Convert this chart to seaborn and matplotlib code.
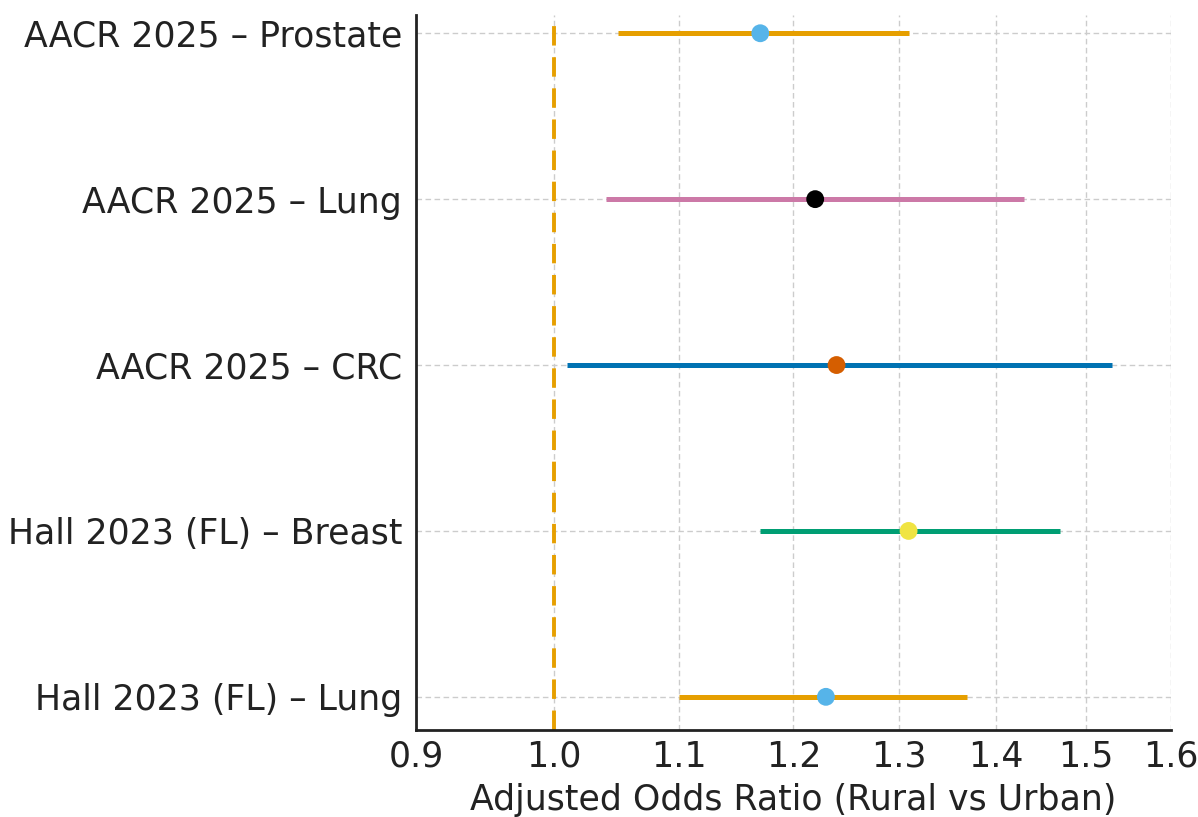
import matplotlib
matplotlib.use("Agg")
import matplotlib.pyplot as plt
import seaborn as sns
import numpy as np
import pandas as pd
from matplotlib.ticker import FixedLocator, FixedFormatter, NullLocator

studies = ["AACR 2025 – Prostate", "AACR 2025 – Lung", "AACR 2025 – CRC",
           "Hall 2023 (FL) – Breast", "Hall 2023 (FL) – Lung"]
odds_ratio = [1.17, 1.22, 1.24, 1.31, 1.23]
ci_low = [1.05, 1.04, 1.01, 1.17, 1.10]
ci_high = [1.31, 1.43, 1.53, 1.47, 1.37]
line_colors = ["#E69F00", "#CC79A7", "#0072B2", "#009E73", "#E69F00"]
point_colors = ["#56B4E9", "#000000", "#D55E00", "#F0E442", "#56B4E9"]
x_ticks = [0.9, 1.0, 1.1, 1.2, 1.3, 1.4, 1.5, 1.6]
x_tick_labels = ["0.9", "1.0", "1.1", "1.2", "1.3", "1.4", "1.5", "1.6"]

sns.set_style("white")
plt.rcParams['font.family'] = ['DejaVu Sans']

df = pd.DataFrame({"study": studies, "or": odds_ratio, "lo": ci_low, "hi": ci_high})
n = len(studies)
df["y"] = [n - 1 - i for i in range(n)]

fig = plt.figure(figsize=(11.98, 8.17), dpi=100)
ax = fig.add_axes([416/1198, 1 - 730/817, (1171 - 416)/1198, (730 - 15)/817])

ax.set_xscale("log")
ax.grid(True, which="major", linestyle=(0, (4, 2.5)), color="#cccccc", linewidth=1.0, zorder=0)
ax.set_axisbelow(True)

ax.axvline(1.0, color="#E69F00", linestyle=(0, (5, 3)), linewidth=2.8, zorder=1)

for i, row in df.iterrows():
    ax.hlines(row["y"], row["lo"], row["hi"], color=line_colors[i], linewidth=3.6, zorder=2)

sns.scatterplot(data=df, x="or", y="y", hue="study", palette=point_colors,
                s=165, edgecolor="none", legend=False, zorder=3, ax=ax)

ax.set_xlim(0.9, 1.6)
ax.set_ylim(-0.2, n - 1 + 0.11)
ax.xaxis.set_major_locator(FixedLocator(x_ticks))
ax.xaxis.set_major_formatter(FixedFormatter(x_tick_labels))
ax.xaxis.set_minor_locator(NullLocator())
ax.set_yticks(df["y"])
ax.set_yticklabels(df["study"])

ax.tick_params(axis="both", direction="in", length=8, width=1.5, colors="#222222",
               labelsize=25, labelcolor="#222222")
ax.tick_params(axis="x", pad=7)
ax.tick_params(axis="y", pad=10)

for s in ["top", "right"]:
    ax.spines[s].set_visible(False)
for s in ["left", "bottom"]:
    ax.spines[s].set_color("#222222")
    ax.spines[s].set_linewidth(2.0)

ax.set_xlabel("Adjusted Odds Ratio (Rural vs Urban)", fontsize=25, color="#222222", labelpad=7)
ax.set_ylabel("")

fig.savefig("out.png", dpi=100)
